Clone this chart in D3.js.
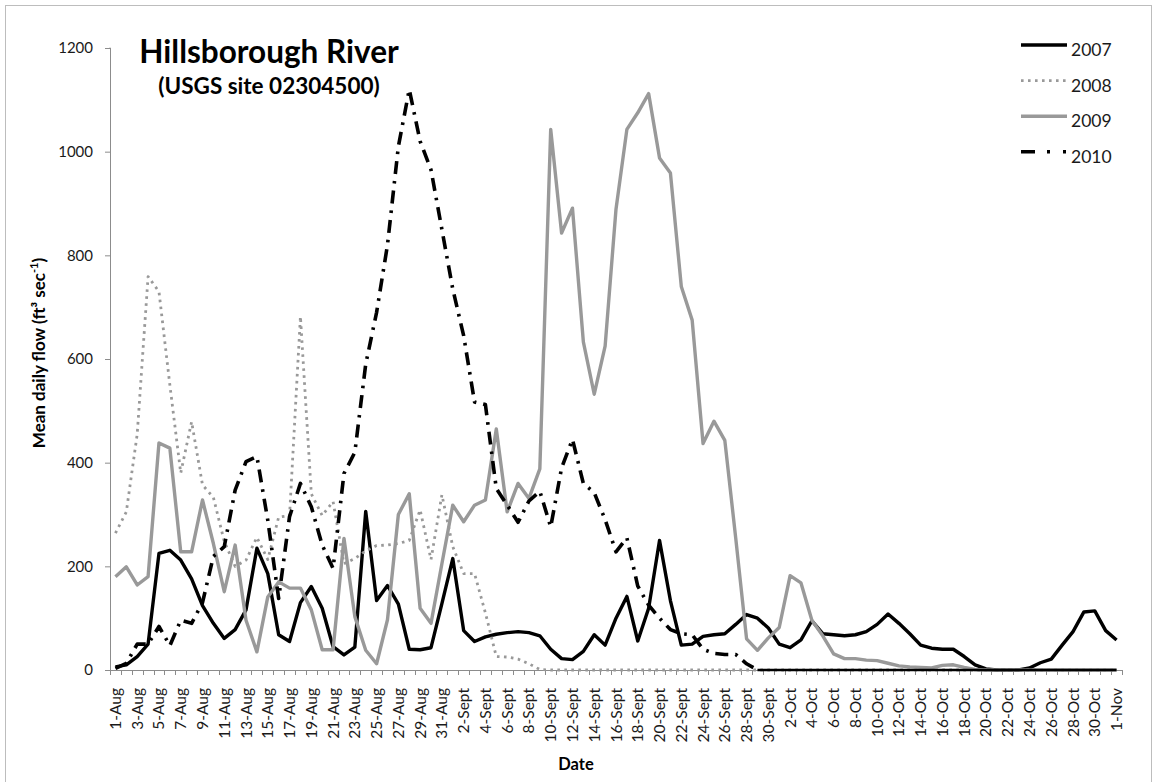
<!DOCTYPE html>
<html>
<head>
<meta charset="utf-8">
<script src="https://cdn.jsdelivr.net/npm/d3@7/dist/d3.min.js"></script>
<style>
  html, body { margin: 0; padding: 0; background: #fff; }
  svg { display: block; font-family: Lato, "Open Sans", sans-serif; }
</style>
</head>
<body>
<svg id="chart" width="1155" height="782"></svg>
<script>
// Daily dates, 1 Aug to 1 Nov
const dates = [
  "1-Aug","2-Aug","3-Aug","4-Aug","5-Aug","6-Aug","7-Aug","8-Aug","9-Aug","10-Aug",
  "11-Aug","12-Aug","13-Aug","14-Aug","15-Aug","16-Aug","17-Aug","18-Aug","19-Aug","20-Aug",
  "21-Aug","22-Aug","23-Aug","24-Aug","25-Aug","26-Aug","27-Aug","28-Aug","29-Aug","30-Aug","31-Aug",
  "1-Sept","2-Sept","3-Sept","4-Sept","5-Sept","6-Sept","7-Sept","8-Sept","9-Sept","10-Sept",
  "11-Sept","12-Sept","13-Sept","14-Sept","15-Sept","16-Sept","17-Sept","18-Sept","19-Sept","20-Sept",
  "21-Sept","22-Sept","23-Sept","24-Sept","25-Sept","26-Sept","27-Sept","28-Sept","29-Sept","30-Sept",
  "1-Oct","2-Oct","3-Oct","4-Oct","5-Oct","6-Oct","7-Oct","8-Oct","9-Oct","10-Oct",
  "11-Oct","12-Oct","13-Oct","14-Oct","15-Oct","16-Oct","17-Oct","18-Oct","19-Oct","20-Oct",
  "21-Oct","22-Oct","23-Oct","24-Oct","25-Oct","26-Oct","27-Oct","28-Oct","29-Oct","30-Oct","31-Oct",
  "1-Nov"
];

// Mean daily flow (ft3/s) per year
const flow2007 = [
  6,10,26,50,225,231,212,176,124,90,
  61,78,116,235,186,68,55,130,161,119,
  45,29,44,306,134,163,127,40,39,43,128,
  215,76,55,64,69,72,74,72,66,40,
  22,20,36,68,48,100,142,56,119,250,
  134,48,50,65,68,70,88,107,100,81,
  50,43,58,95,70,68,66,68,74,88,
  108,90,70,48,42,40,40,26,10,2,
  0,0,0,4,14,21,48,74,112,114,76,
  58
];
const flow2008 = [
  264,305,455,759,730,550,380,479,357,333,
  248,200,212,256,213,295,298,682,340,298,
  325,205,215,230,240,241,244,250,309,213,338,
  238,186,186,110,26,25,21,12,1,0,
  0,0,0,0,0,0,0,0,0,0,
  0,0,0,0,0,0,0,0,0,0,
  0,0,0,0,0,0,0,0,0,0,
  0,0,0,0,0,0,0,0,0,0,
  0,0,0,0,0,0,0,0,0,0,0,
  0
];
const flow2009 = [
  180,199,164,180,438,428,228,228,328,244,
  151,241,96,35,141,170,158,158,116,39,
  39,254,103,38,12,97,300,340,119,90,205,
  318,286,318,328,465,305,360,331,388,1043,
  843,891,633,532,625,889,1043,1075,1112,988,
  959,740,675,437,480,443,255,60,38,62,
  82,182,168,96,66,31,22,22,19,18,
  13,8,6,5,4,9,10,5,1,0,
  0,0,0,0,0,0,0,0,0,0,0,
  0
];
const flow2010 = [
  3,13,50,50,84,47,96,90,130,219,
  238,347,402,412,289,138,296,360,315,241,
  196,379,420,590,690,820,1010,1120,1020,965,850,
  735,645,517,512,350,318,285,326,345,276,
  390,445,360,342,290,228,255,162,125,100,
  78,70,68,40,32,30,30,12,0,0,
  0,0,0,0,0,0,0,0,0,0,
  0,0,0,0,0,0,0,0,0,0,
  0,0,0,0,0,0,0,0,0,0,0,
  0
];

const yTicks = [0, 200, 400, 600, 800, 1000, 1200];
const years = ["2007", "2008", "2009", "2010"];

const series = [
  { name: years[0], values: flow2007, color: "#000", width: 3.4, dash: null },
  { name: years[1], values: flow2008, color: "#999", width: 2.8, dash: "2.6,4.4" },
  { name: years[2], values: flow2009, color: "#999", width: 3.4, dash: null },
  { name: years[3], values: flow2010, color: "#000", width: 3.6, dash: "13,7,2.6,7" }
];

const svg = d3.select("#chart");
const plot = { left: 110, right: 1122, top: 48, bottom: 670 };

// frame around the whole figure
svg.append("rect")
  .attr("x", 5.5).attr("y", 5.5)
  .attr("width", 1146).attr("height", 800)
  .attr("fill", "none").attr("stroke", "#bdbdbd").attr("stroke-width", 1);

const xBand = d3.scaleBand().domain(dates).range([plot.left, plot.right]);
const x = d3.scalePoint().domain(dates).range([plot.left, plot.right]).padding(0.5);
const y = d3.scaleLinear().domain([0, 1200]).range([plot.bottom, plot.top]);

// y axis
const yAxis = svg.append("g")
  .attr("transform", `translate(${plot.left},0)`)
  .call(d3.axisLeft(y).tickValues(yTicks).tickSize(5).tickPadding(12).tickFormat(d3.format("d")));
yAxis.select(".domain").attr("stroke", "#8c8c8c").attr("d", `M-0.5,${plot.top}H0.5V${plot.bottom}`);
yAxis.selectAll(".tick line").attr("stroke", "#8c8c8c");
yAxis.selectAll(".tick text").attr("font-size", 15).attr("fill", "#1a1a1a")
  .attr("font-family", "Lato, sans-serif");

// x axis: tick marks on category boundaries, labels on every other day
const xAxisG = svg.append("g").attr("transform", `translate(0,${plot.bottom})`);
xAxisG.append("line")
  .attr("x1", plot.left).attr("x2", plot.right)
  .attr("y1", 0.5).attr("y2", 0.5)
  .attr("stroke", "#8c8c8c");
const boundaries = dates.map(d => xBand(d)).concat([xBand(dates[dates.length - 1]) + xBand.bandwidth()]);
xAxisG.selectAll("line.tick")
  .data(boundaries)
  .join("line")
  .attr("class", "tick")
  .attr("x1", d => Math.round(d) + 0.5).attr("x2", d => Math.round(d) + 0.5)
  .attr("y1", 0).attr("y2", 5)
  .attr("stroke", "#8c8c8c");
xAxisG.selectAll("text.lab")
  .data(dates.filter((d, i) => i % 2 === 0))
  .join("text")
  .attr("class", "lab")
  .attr("transform", d => `translate(${x(d) + 5.5},${18}) rotate(-90)`)
  .attr("text-anchor", "end")
  .attr("font-size", 15.5)
  .attr("fill", "#1a1a1a")
  .text(d => d);

// series lines
const line = d3.line()
  .x((d, i) => x(dates[i]))
  .y(d => y(d));

const lines = svg.append("g").attr("fill", "none")
  .attr("stroke-linejoin", "round");

series.forEach(s => {
  if (s.name === "2010") {
    // dash-dot while flowing, then a plain trace along zero
    const lastFlow = s.values.findIndex((v, i) => i > 30 && v === 0);
    lines.append("path")
      .datum(s.values)
      .attr("d", line.defined((d, i) => i <= lastFlow)(s.values))
      .attr("stroke", s.color).attr("stroke-width", s.width)
      .attr("stroke-dasharray", s.dash);
    lines.append("path")
      .datum(s.values)
      .attr("d", line.defined((d, i) => i >= lastFlow)(s.values))
      .attr("stroke", s.color).attr("stroke-width", 2.6);
    line.defined(() => true);
  } else {
    lines.append("path")
      .datum(s.values)
      .attr("d", line.defined(() => true)(s.values))
      .attr("stroke", s.color).attr("stroke-width", s.width)
      .attr("stroke-dasharray", s.dash);
  }
});

// titles
svg.append("text")
  .attr("x", 269).attr("y", 63)
  .attr("text-anchor", "middle")
  .attr("font-weight", "bold").attr("font-size", 31.5)
  .text("Hillsborough River");
svg.append("text")
  .attr("x", 269).attr("y", 94)
  .attr("text-anchor", "middle")
  .attr("font-weight", "bold").attr("font-size", 22.5)
  .text("(USGS site 02304500)");

const yTitle = svg.append("text")
  .attr("transform", "translate(45,353) rotate(-90)")
  .attr("text-anchor", "middle")
  .attr("font-weight", "bold").attr("font-size", 17);
yTitle.append("tspan").text("Mean daily flow (ft³ sec");
yTitle.append("tspan").attr("font-size", 11).attr("dy", -7).text("-1");
yTitle.append("tspan").attr("dy", 7).text(")");

svg.append("text")
  .attr("x", 576).attr("y", 770)
  .attr("text-anchor", "middle")
  .attr("font-weight", "bold").attr("font-size", 16.5)
  .text("Date");

// legend
const legend = svg.append("g");
const legendDash = { "2008": "2.6,4.4", "2010": "14,12,3,13,3,20" };
series.forEach((s, k) => {
  const ly = 45 + k * 35.6;
  legend.append("line")
    .attr("x1", 1021).attr("x2", 1067)
    .attr("y1", ly).attr("y2", ly)
    .attr("stroke", s.color).attr("stroke-width", s.width)
    .attr("stroke-dasharray", legendDash[s.name] || null);
  legend.append("text")
    .attr("x", 1071).attr("y", ly + 11)
    .attr("font-size", 17.5).attr("fill", "#1a1a1a")
    .text(s.name);
});
</script>
</body>
</html>
